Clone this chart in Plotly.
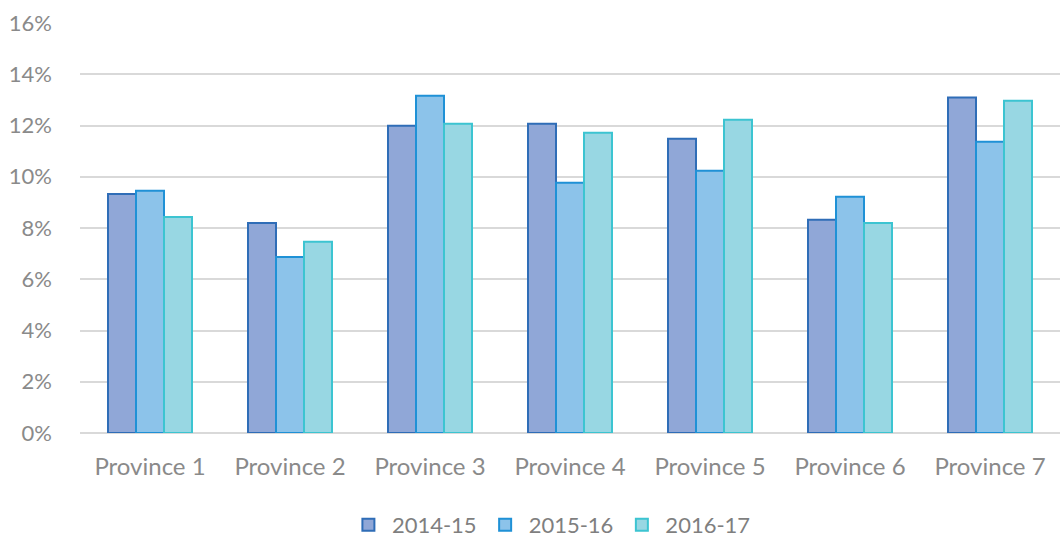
import plotly.graph_objects as go

provinces = ["Province 1", "Province 2", "Province 3", "Province 4", "Province 5", "Province 6", "Province 7"]
series_names = ["2014-15", "2015-16", "2016-17"]
v_2014_15 = [9.33, 8.20, 11.99, 12.07, 11.48, 8.32, 13.09]
v_2015_16 = [9.45, 6.87, 13.16, 9.77, 10.23, 9.22, 11.37]
v_2016_17 = [8.43, 7.46, 12.07, 11.72, 12.22, 8.20, 12.97]
y_ticks = [0, 2, 4, 6, 8, 10, 12, 14, 16]

fills = ["#90a7d7", "#8cc3ea", "#98d7e3"]
borders = ["#2f6db7", "#1f91d6", "#3cc4d1"]

fig = go.Figure()
for name, vals, fc, bc in zip(series_names, [v_2014_15, v_2015_16, v_2016_17], fills, borders):
    fig.add_trace(go.Bar(
        x=provinces, y=[v / 100 for v in vals], name=name,
        marker=dict(color=fc, line=dict(color=bc, width=2)),
    ))

fig.update_layout(
    width=1060, height=539,
    margin=dict(l=80, r=0, t=23, b=106),
    paper_bgcolor="white", plot_bgcolor="white",
    barmode="group", bargap=0.4, bargroupgap=0,
    font=dict(family="Lato, 'Open Sans', sans-serif", size=22, color="#8a8a8a"),
    showlegend=True,
    legend=dict(orientation="h", x=0.48, xanchor="center", yref="container", y=0.026, yanchor="middle",
                font=dict(size=22, color="#7f7f7f"), itemwidth=37, traceorder="normal"),
    xaxis=dict(showgrid=False, showline=False, ticks="", tickfont=dict(size=24, color="#8a8a8a"),
               ticklabelstandoff=17, automargin=False),
    yaxis=dict(range=[0, 0.16], tickvals=[t / 100 for t in y_ticks],
               ticktext=[f"{t}%" for t in y_ticks],
               showgrid=True, gridcolor="#d9d9d9", gridwidth=1.5,
               zeroline=True, zerolinecolor="#d9d9d9", zerolinewidth=1.5,
               showline=False, ticks="", ticklabelstandoff=27, automargin=False,
               tickfont=dict(size=22, color="#8a8a8a")),
)

fig.write_html("out.html", config={"displayModeBar": False},
               post_script="document.body.style.margin='0';document.body.style.overflow='hidden';")
